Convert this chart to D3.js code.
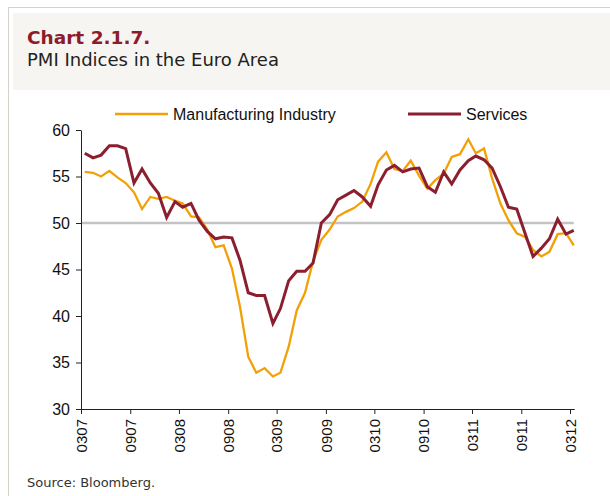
<!DOCTYPE html>
<html>
<head>
<meta charset="utf-8">
<script src="https://cdn.jsdelivr.net/npm/d3@7"></script>
<style>
  body { margin: 0; background: #fff; }
  svg { display: block; }
</style>
</head>
<body>
<div id="chart"></div>
<script>
// Monthly PMI readings, Mar 2007 .. Mar 2012
const manufacturing = [
    55.5, 55.4, 55.0, 55.6, 54.9, 54.3, 53.3, 51.5, 52.8, 52.6,
    52.8, 52.4, 52.1, 50.7, 50.6, 49.3, 47.4, 47.6, 45.1, 41.0,
    35.6, 33.9, 34.4, 33.5, 33.9, 36.7, 40.6, 42.5, 45.9, 48.2,
    49.3, 50.7, 51.2, 51.6, 52.3, 54.2, 56.6, 57.6, 55.8, 55.6,
    56.7, 55.1, 53.7, 54.6, 55.3, 57.1, 57.4, 59.0, 57.5, 58.0,
    54.8, 52.1, 50.3, 48.9, 48.5, 47.1, 46.4, 46.9, 48.8, 48.9,
    47.6
];
const services = [
    57.5, 57.0, 57.3, 58.3, 58.3, 58.0, 54.3, 55.8, 54.3, 53.2,
    50.6, 52.3, 51.7, 52.1, 50.3, 49.1, 48.3, 48.5, 48.4, 46.0,
    42.5, 42.2, 42.2, 39.2, 40.8, 43.8, 44.8, 44.8, 45.7, 50.0,
    50.9, 52.5, 53.0, 53.5, 52.8, 51.8, 54.1, 55.7, 56.2, 55.5,
    55.8, 55.9, 53.9, 53.3, 55.5, 54.2, 55.7, 56.7, 57.2, 56.8,
    55.9, 53.9, 51.7, 51.5, 48.9, 46.4, 47.3, 48.3, 50.4, 48.8,
    49.2
];
const seriesNames = ["Manufacturing Industry", "Services"];
const seriesColors = ["#f2a007", "#8c1f2f"];
const xTickLabels = ["0307", "0907", "0308", "0908", "0309", "0909", "0310", "0910", "0311", "0911", "0312"];
const yTicks = [30, 35, 40, 45, 50, 55, 60];

const W = 610, H = 496;
const headFont = "'DejaVu Sans', Verdana, sans-serif";
const svg = d3.select("#chart").append("svg")
    .attr("width", W)
    .attr("height", H)
    .style("font-family", "'Liberation Sans', Arial, sans-serif");

// frame + header band
svg.append("rect")
    .attr("x", 8.5).attr("y", 7.5)
    .attr("width", W + 10).attr("height", H + 10)
    .attr("fill", "none")
    .attr("stroke", "#d6d1ca")
    .attr("stroke-width", 1);
svg.append("rect")
    .attr("x", 13).attr("y", 13)
    .attr("width", W - 13).attr("height", 77)
    .attr("fill", "#f6f5f1");

svg.append("text")
    .attr("x", 27).attr("y", 44)
    .attr("fill", "#8b1c2c")
    .style("font-family", headFont)
    .style("font-weight", "bold")
    .style("font-size", "18.5px")
    .text("Chart 2.1.7.");
svg.append("text")
    .attr("x", 27).attr("y", 66)
    .attr("fill", "#222")
    .style("font-family", headFont)
    .style("font-size", "18px")
    .text("PMI Indices in the Euro Area");

svg.append("text")
    .attr("x", 27).attr("y", 487)
    .attr("fill", "#333")
    .style("font-family", headFont)
    .style("font-size", "13px")
    .text("Source: Bloomberg.");

// scales
const parseLabel = s => new Date(2000 + +s.slice(2), +s.slice(0, 2) - 1, 1);
const start = parseLabel(xTickLabels[0]);
const end = parseLabel(xTickLabels[xTickLabels.length - 1]);
const dates = manufacturing.map((d, i) => new Date(start.getFullYear(), start.getMonth() + i, 15));

const x = d3.scaleTime().domain([start, end]).range([81, 570]);
const y = d3.scaleLinear().domain([30, 60]).range([409, 130]);

// reference line at 50
svg.append("line")
    .attr("x1", x(start)).attr("x2", x(dates[dates.length - 1]))
    .attr("y1", y(50)).attr("y2", y(50))
    .attr("stroke", "#c3c3c3")
    .attr("stroke-width", 2.5);

// axes
const xAxis = svg.append("g")
    .attr("transform", `translate(0,${y(30)})`)
    .call(d3.axisBottom(x)
        .tickValues(xTickLabels.map(parseLabel))
        .tickFormat((d, i) => xTickLabels[i])
        .tickSize(5)
        .tickSizeOuter(0));
xAxis.select(".domain").attr("stroke", "#222").attr("d", `M${x(start)},0.5H${x(dates[dates.length - 1]) + 1}`);
xAxis.selectAll(".tick line").attr("stroke", "#222");
xAxis.selectAll(".tick text")
    .attr("transform", "rotate(-90)")
    .attr("text-anchor", "end")
    .attr("x", -10)
    .attr("y", 0)
    .attr("dy", "0.35em")
    .attr("fill", "#111")
    .style("font-size", "15px")
    .style("font-family", "'Liberation Sans', Arial, sans-serif");

const yAxis = svg.append("g")
    .attr("transform", `translate(${x(start)},0)`)
    .call(d3.axisLeft(y).tickValues(yTicks).tickSize(5).tickSizeOuter(0));
yAxis.select(".domain").attr("stroke", "#222");
yAxis.selectAll(".tick line").attr("stroke", "#222");
yAxis.selectAll(".tick text")
    .attr("x", -11)
    .attr("fill", "#111")
    .style("font-size", "16px")
    .style("font-family", "'Liberation Sans', Arial, sans-serif");

// lines
const line = d3.line()
    .x((d, i) => x(dates[i]))
    .y(d => y(d));

svg.append("path")
    .datum(manufacturing)
    .attr("fill", "none")
    .attr("stroke", seriesColors[0])
    .attr("stroke-width", 2.3)
    .attr("d", line);

svg.append("path")
    .datum(services)
    .attr("fill", "none")
    .attr("stroke", seriesColors[1])
    .attr("stroke-width", 3)
    .attr("d", line);

// legend
const legendX = [115, 408];
seriesNames.forEach((name, i) => {
    const g = svg.append("g").attr("transform", `translate(${legendX[i]},114)`);
    g.append("line")
        .attr("x1", 0).attr("x2", 53)
        .attr("stroke", seriesColors[i])
        .attr("stroke-width", i === 0 ? 2.3 : 3);
    g.append("text")
        .attr("x", 58).attr("y", 0)
        .attr("dy", "0.36em")
        .attr("fill", "#111")
        .style("font-size", "16px")
        .text(name);
});
</script>
</body>
</html>
